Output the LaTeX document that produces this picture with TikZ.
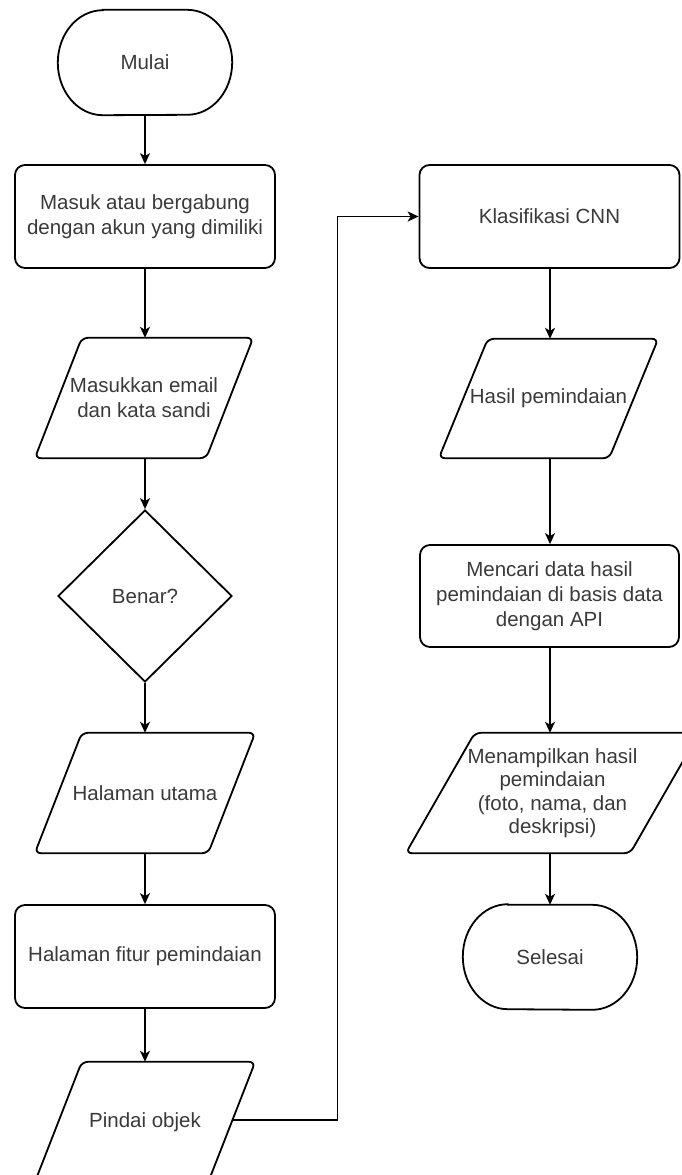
\documentclass[tikz,border=0pt]{standalone}
\usepackage{fontspec}
\setmainfont{Liberation Sans}
\usetikzlibrary{shapes.geometric,arrows.meta,calc}
\definecolor{txt}{HTML}{3A3A3A}
\tikzset{
  lbl/.style={inner sep=0pt, align=center, text=txt, font=\fontsize{20.5}{25}\selectfont},
  boxn/.style={lbl, draw=black, line width=1.8pt, rounded corners=10pt, minimum width=260pt, minimum height=103pt},
  ion/.style={lbl, minimum height=120pt},
  shp/.style={draw=black, line width=1.8pt},
  arr/.style={draw=black, line width=1.4pt, -{Stealth[length=11pt,width=10pt,inset=3pt]}},
}
\newcommand{\paral}[2]{\draw[shp, rounded corners=6pt] ([xshift=#2]#1.north west) -- (#1.north east) -- ([xshift=-#2]#1.south east) -- (#1.south west) -- cycle;}
\newcommand{\termin}[1]{\draw[shp] ([xshift=45pt]#1.north west) -- ([xshift=-45pt]#1.north east) arc[start angle=90,end angle=-90,x radius=45pt,y radius=52.5pt] -- ([xshift=45pt]#1.south west) arc[start angle=270,end angle=90,x radius=45pt,y radius=52.5pt] -- cycle;}
\begin{document}
\begin{tikzpicture}[x=1pt,y=-1pt]
\clip (0,0) rectangle (682,1175);
\fill[white] (0,0) rectangle (682,1175);
% left column
\node[lbl, minimum width=174pt, minimum height=105pt] (mulai) at (145,62.5) {Mulai};
\termin{mulai}
\node[boxn] (masuk) at (145,216.5) {Masuk atau bergabung\\dengan akun yang dimiliki};
\node[ion, minimum width=218pt] (email) at (144,398) {Masukkan email\\dan kata sandi};
\paral{email}{47pt}
\node[lbl, diamond, draw=black, line width=1.8pt, aspect=1, minimum width=174pt, minimum height=172pt] (benar) at (145,596) {Benar?};
\node[ion, minimum width=220pt] (utama) at (145,793) {Halaman utama};
\paral{utama}{47pt}
\node[boxn] (fitur) at (145,956.5) {Halaman fitur pemindaian};
\node[ion, minimum width=220pt] (pindai) at (145,1122) {\raisebox{1pt}{Pindai objek}};
\paral{pindai}{47pt}
% right column
\node[boxn] (klas) at (549.5,216.5) {Klasifikasi CNN};
\node[ion, minimum width=219pt, minimum height=119pt] (hasil) at (548.5,398.5) {Hasil pemindaian};
\paral{hasil}{49pt}
\node[boxn, minimum width=259pt, minimum height=102pt] (cari) at (549.5,596) {Mencari data hasil\\pemindaian di basis data\\dengan API};
\node[ion, minimum width=293pt, font=\fontsize{20.5}{23.5}\selectfont] (tampil) at (552.5,793) {Menampilkan hasil\\pemindaian\\(foto, nama, dan\\deskripsi)};
\paral{tampil}{69pt}
\node[lbl, minimum width=174pt, minimum height=104pt] (selesai) at (550,957) {Selesai};
\termin{selesai}
% connectors
\draw[arr] (mulai.south) -- (mulai.south |- masuk.north);
\draw[arr] (masuk.south -| mulai.south) -- (mulai.south |- email.north);
\draw[arr] (email.south -| mulai.south) -- (benar.north);
\draw[arr] (benar.south) -- (benar.south |- utama.north);
\draw[arr] (utama.south -| mulai.south) -- (mulai.south |- fitur.north);
\draw[arr] (fitur.south -| mulai.south) -- (mulai.south |- pindai.north);
\coordinate (pe) at ([xshift=-23.5pt,yshift=2pt]pindai.east);
\draw[arr] (pe) -- ++(106,0) |- (klas.west);
\draw[arr] (klas.south -| selesai.north) -- (selesai.north |- hasil.north);
\draw[arr] (hasil.south -| selesai.north) -- (selesai.north |- cari.north);
\draw[arr] (cari.south -| selesai.north) -- (selesai.north |- tampil.north);
\draw[arr] (tampil.south -| selesai.north) -- (selesai.north);
\end{tikzpicture}
\end{document}
